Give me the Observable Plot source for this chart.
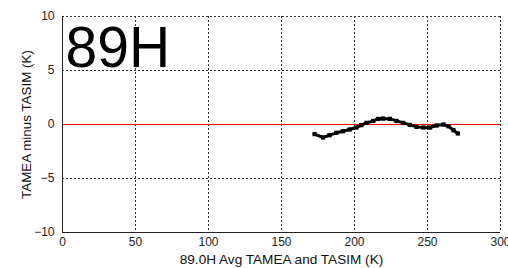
<!DOCTYPE html>
<html>
<head>
<meta charset="utf-8">
<script src="https://cdn.jsdelivr.net/npm/d3@7"></script>
<script src="https://cdn.jsdelivr.net/npm/@observablehq/plot@0.6"></script>
<style>
  html, body { margin: 0; padding: 0; background: #fff; }
  svg { display: block; }
</style>
</head>
<body>
<div id="chart"></div>
<script>
const avgTemp = [172.6, 178.4, 182.9, 187.5, 192.1, 196.7, 201.3, 204.7, 208.2, 212.8, 216.2, 219.6, 224.2, 228.8, 233.4, 237.9, 242.5, 247.2, 251.7, 256.3, 260.9, 264.4, 267.8, 270.8];
const diffTemp = [-0.89, -1.20, -0.99, -0.77, -0.62, -0.46, -0.28, -0.06, 0.15, 0.33, 0.52, 0.55, 0.52, 0.33, 0.15, -0.04, -0.22, -0.28, -0.28, -0.09, 0.00, -0.16, -0.53, -0.83];
const xTicks = [0, 50, 100, 150, 200, 250, 300];
const yTicks = [-10, -5, 0, 5, 10];
const channelLabel = "89H";
const xLabel = "89.0H Avg TAMEA and TASIM (K)";
const yLabel = "TAMEA minus TASIM (K)";

const data = avgTemp.map((x, i) => ({x, y: diffTemp[i]}));
const font = "'Liberation Sans', Arial, sans-serif";

const chart = Plot.plot({
  width: 508,
  height: 268,
  marginLeft: 62,
  marginRight: 8,
  marginTop: 16,
  marginBottom: 36,
  style: {fontFamily: font, fontSize: "12px", color: "#222", background: "#fff", overflow: "visible"},
  x: {domain: [0, 300]},
  y: {domain: [-10, 10]},
  marks: [
    Plot.ruleX(xTicks.slice(1), {stroke: "#333", strokeDasharray: "2,2", strokeWidth: 1}),
    Plot.ruleY(yTicks.slice(1), {stroke: "#333", strokeDasharray: "2,2", strokeWidth: 1}),
    Plot.ruleY([0], {stroke: "#ff0000", strokeWidth: 1}),
    Plot.ruleX([0], {stroke: "#222", strokeWidth: 1}),
    Plot.ruleY([-10], {stroke: "#222", strokeWidth: 1}),
    Plot.line(data, {x: "x", y: "y", stroke: "#000", strokeWidth: 3}),
    Plot.dot(data, {x: "x", y: "y", symbol: "square", r: 2.4, fill: "#000"}),
    Plot.text([channelLabel], {frameAnchor: "top-left", textAnchor: "start", lineAnchor: "top", dx: 3, dy: 10, fontSize: 57, fill: "#000", fontFamily: font}),
    Plot.axisX({ticks: xTicks, tickSize: 0, tickPadding: 5, fontSize: 12, label: null}),
    Plot.axisY({ticks: yTicks, tickSize: 0, tickPadding: 8, fontSize: 12, label: null}),
    Plot.text([xLabel], {frameAnchor: "bottom", lineAnchor: "middle", dy: 27, fontSize: 13.6, fill: "#111", fontFamily: font}),
    Plot.text([yLabel], {frameAnchor: "left", textAnchor: "middle", lineAnchor: "middle", rotate: -90, dx: -36, fontSize: 13.4, fill: "#111", fontFamily: font})
  ]
});
document.getElementById("chart").appendChild(chart);
</script>
</body>
</html>
